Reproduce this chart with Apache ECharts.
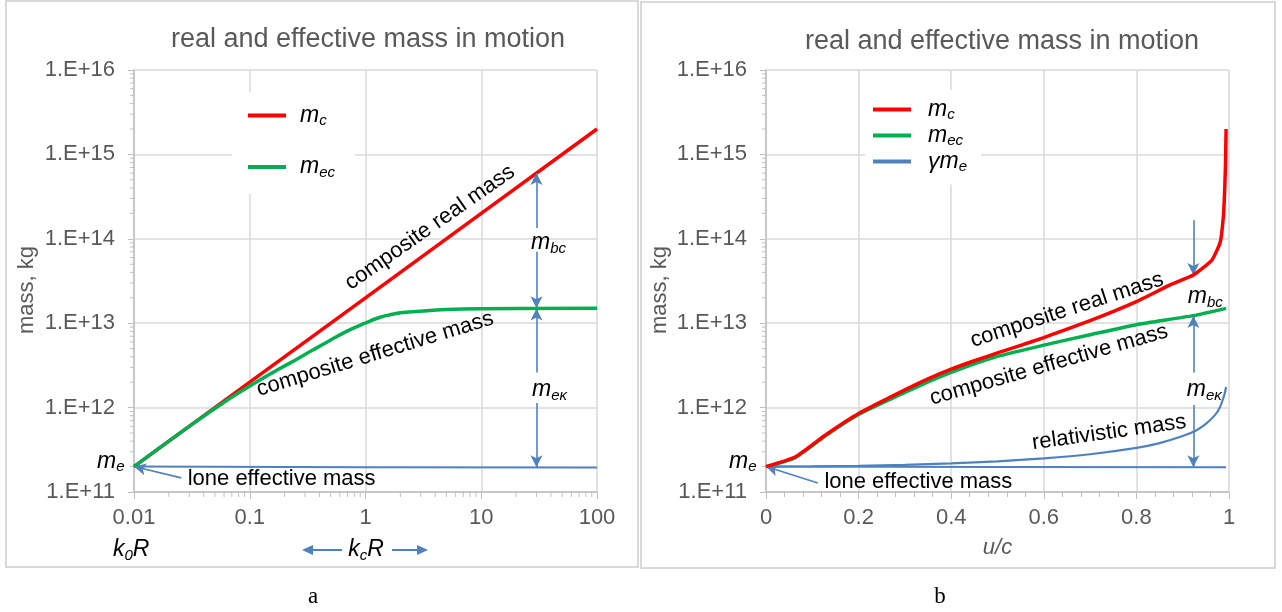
<!DOCTYPE html>
<html><head><meta charset="utf-8">
<script src="https://cdn.jsdelivr.net/npm/echarts@6/dist/echarts.min.js"></script>
<style>html,body{margin:0;padding:0;background:#fff}#c{width:1282px;height:612px}</style>
</head><body><div id="c"></div>
<script>
// ---------- data ----------
// panel a : mass vs k·R (log-log)
const kR_mc   = [0.01, 0.1, 1, 10, 100];
const mc_a    = [2e11, 2e12, 2e13, 2e14, 2e15];
const kR_mec  = [0.01, 0.03, 0.0675, 0.1, 0.182, 0.255, 0.35, 0.493, 0.7, 0.99, 1.3, 1.63, 2.0, 2.77, 5, 10, 100];
const mec_a   = [2e11, 6e11, 1.29e12, 1.8e12, 2.9e12, 3.74e12, 4.8e12, 6.25e12, 8.1e12, 1.0e13, 1.16e13, 1.26e13, 1.33e13, 1.38e13, 1.45e13, 1.48e13, 1.5e13];
const kR_lone = [0.01, 1, 100];
const lone_a  = [2e11, 1.97e11, 1.95e11];
// panel b : mass vs u/c
const u_mc    = [0, 0.063, 0.13, 0.2, 0.3, 0.35, 0.4, 0.45, 0.5, 0.55, 0.6, 0.7, 0.8, 0.873, 0.923, 0.963, 0.981, 0.988, 0.991, 0.9925, 0.9937];
const mc_b    = [2e11, 2.6e11, 4.8e11, 8.5e11, 1.62e12, 2.19e12, 2.85e12, 3.59e12, 4.45e12, 5.46e12, 6.76e12, 1.07e13, 1.8e13, 2.84e13, 3.72e13, 5.6e13, 9.1e13, 1.9e14, 4.2e14, 8e14, 2e15];
const u_mec   = [0, 0.063, 0.13, 0.2, 0.3, 0.35, 0.4, 0.45, 0.49, 0.6, 0.7, 0.8, 0.923, 0.9937];
const mec_b   = [2e11, 2.55e11, 4.7e11, 8.3e11, 1.51e12, 2.02e12, 2.62e12, 3.31e12, 3.9e12, 5.5e12, 7.3e12, 9.6e12, 1.23e13, 1.5e13];
const u_gam   = [0, 0.1, 0.2, 0.3, 0.4, 0.5, 0.6, 0.7, 0.8, 0.85, 0.9, 0.93, 0.95, 0.97, 0.98, 0.99, 0.9937];
const gme_b   = [2.0e11, 2.01e11, 2.04e11, 2.1e11, 2.18e11, 2.31e11, 2.5e11, 2.8e11, 3.33e11, 3.8e11, 4.6e11, 5.4e11, 6.4e11, 8.2e11, 1.0e12, 1.42e12, 1.75e12];
const u_lone  = [0, 0.5, 0.9937];
const lone_b  = [2e11, 1.98e11, 1.96e11];
// axes
const yTicks  = [1e11, 1e12, 1e13, 1e14, 1e15, 1e16];
const xTicksA = [0.01, 0.1, 1, 10, 100];
const xTicksB = [0, 0.2, 0.4, 0.6, 0.8, 1];
const minorSteps = [2, 3, 4, 5, 6, 7, 8, 9];
const legendNames = { mc: '{i|m}{s|c}', mec: '{i|m}{s|ec}', gme: '{i|γm}{s|e}' };

// ---------- styling ----------
const FONT = '"Liberation Sans", Arial, sans-serif';
const GRAY = '#595959', GRID = '#d9d9d9', AXIS = '#bfbfbf';
const RED = '#ff0000', GREEN = '#00b050', BLUE = '#4f81bd';
const zip = (xs, ys) => xs.map((x, i) => [x, ys[i]]);
const logMinor = ticks => ticks.slice(0, -1).flatMap(d => minorSteps.map(k => k * d));
const yMinor = logMinor(yTicks), xMinorA = logMinor(xTicksA);
const rich = {
  i: { fontSize: 23, fontStyle: 'italic', fontFamily: FONT, color: '#000', lineHeight: 26 },
  s: { fontSize: 15, fontStyle: 'italic', fontFamily: FONT, color: '#000', lineHeight: 14, verticalAlign: 'bottom' }
};
function txt(coord, text, rotate, extra) {
  return {
    coord, symbol: 'circle', symbolSize: 1, itemStyle: { color: 'rgba(0,0,0,0)' },
    label: Object.assign({ show: true, position: 'inside', formatter: text, rotate: rotate || 0,
      color: '#000', fontSize: 22, fontFamily: FONT, rich }, extra || {})
  };
}
function arrow(from, to) {
  return [{ coord: from, symbol: 'none' }, { coord: to, symbol: 'arrow', symbolSize: [9, 12] }];
}
const markLineBase = { silent: true, animation: false, label: { show: false }, emphasis: { disabled: true },
  lineStyle: { color: BLUE, width: 1.6, type: 'solid' } };

// minor tick marks on log axes, placed through the axis scales
function minorTickSeries(gi, values, dir, anchor) {
  return { type: 'custom', xAxisIndex: gi, yAxisIndex: gi, silent: true, clip: false, z: 1,
    data: values.map(v => [v]),
    renderItem: (params, api) => {
      const v = api.value(0);
      const p = dir === 'y' ? api.coord([anchor, v]) : api.coord([v, anchor]);
      const shape = dir === 'y' ? { x1: p[0] - 4, y1: p[1], x2: p[0], y2: p[1] }
                                : { x1: p[0], y1: p[1], x2: p[0], y2: p[1] + 5 };
      return { type: 'line', shape, style: { stroke: AXIS, lineWidth: 1 } };
    } };
}

function yAxis(gi) {
  return { type: 'log', logBase: 10, gridIndex: gi, min: yTicks[0], max: yTicks[yTicks.length - 1],
    axisLine: { show: true, lineStyle: { color: AXIS, width: 1.5 } },
    axisTick: { show: true, length: 6, lineStyle: { color: AXIS } },
    minorTick: { show: false },
    splitLine: { show: true, lineStyle: { color: GRID, width: 1.5 } },
    axisLabel: { color: GRAY, fontSize: 22, fontFamily: FONT, margin: 19,
      formatter: v => '1.E+' + Math.round(Math.log10(v)) } };
}

const option = {
  animation: false,
  title: [
    { text: 'real and effective mass in motion', left: 368, top: 26, textAlign: 'center', padding: 0,
      textStyle: { color: GRAY, fontSize: 27, fontWeight: 'normal', fontFamily: FONT } },
    { text: 'real and effective mass in motion', left: 1002, top: 28, textAlign: 'center', padding: 0,
      textStyle: { color: GRAY, fontSize: 27, fontWeight: 'normal', fontFamily: FONT } }
  ],
  legend: [
    { data: ['mc', 'mec'], orient: 'vertical', left: 232, top: 92, padding: [12, 20, 14, 16],
      backgroundColor: '#fff', itemGap: 27, icon: 'rect', itemWidth: 38, itemHeight: 4,
      formatter: n => legendNames[n], textStyle: { rich, padding: [0, 0, 0, 9] }, selectedMode: false },
    { data: ['mc', 'mec', 'gme'], orient: 'vertical', left: 865, top: 90, padding: [8, 14, 10, 8],
      backgroundColor: '#fff', itemGap: 1.5, icon: 'rect', itemWidth: 38, itemHeight: 4,
      formatter: n => legendNames[n], textStyle: { rich, padding: [0, 0, 0, 12] }, selectedMode: false }
  ],
  grid: [
    { left: 134, right: 1282 - 597, top: 70, bottom: 612 - 492 },
    { left: 766, right: 1282 - 1229, top: 70, bottom: 612 - 492 }
  ],
  xAxis: [
    { type: 'log', logBase: 10, gridIndex: 0, min: xTicksA[0], max: xTicksA[xTicksA.length - 1],
      axisLine: { show: true, lineStyle: { color: AXIS, width: 1.5 } },
      axisTick: { show: true, length: 7, lineStyle: { color: AXIS } },
      minorTick: { show: false },
      splitLine: { show: true, lineStyle: { color: GRID, width: 1.5 } },
      axisLabel: { color: GRAY, fontSize: 22, fontFamily: FONT, margin: 15,
        formatter: v => String(+(+v).toPrecision(2)) } },
    { type: 'value', gridIndex: 1, min: xTicksB[0], max: xTicksB[xTicksB.length - 1], interval: 0.2,
      name: 'u/c', nameLocation: 'middle', nameGap: 45,
      nameTextStyle: { color: GRAY, fontSize: 22, fontStyle: 'italic', fontFamily: FONT },
      axisLine: { show: true, lineStyle: { color: AXIS, width: 1.5 } },
      axisTick: { show: true, length: 7, lineStyle: { color: AXIS } },
      minorTick: { show: true, splitNumber: 5, length: 5, lineStyle: { color: AXIS } },
      splitLine: { show: true, lineStyle: { color: GRID, width: 1.5 } },
      axisLabel: { color: GRAY, fontSize: 22, fontFamily: FONT, margin: 15,
        formatter: v => String(+(+v).toFixed(1)) } }
  ],
  yAxis: [yAxis(0), yAxis(1)],
  series: [
    minorTickSeries(0, yMinor, 'y', xTicksA[0]),
    minorTickSeries(0, xMinorA, 'x', yTicks[0]),
    minorTickSeries(1, yMinor, 'y', xTicksB[0]),
    { name: 'lone', type: 'line', xAxisIndex: 0, yAxisIndex: 0, data: zip(kR_lone, lone_a), showSymbol: false,
      lineStyle: { color: BLUE, width: 2 }, itemStyle: { color: BLUE }, z: 3,
      markLine: Object.assign({}, markLineBase, { data: [
        arrow([0.0256, 1.47e11], [0.01, 2e11]),
        arrow([30, 1.34e14], [30, 6.0e14]),
        arrow([30, 7.0e13], [30, 1.5e13]),
        arrow([30, 2.6e12], [30, 1.49e13]),
        arrow([30, 1.13e12], [30, 1.96e11])
      ] }),
      markPoint: { silent: true, animation: false, data: [
        txt([0.01, 2e11], '{i|m}{s|e}', 0, { position: 'left', distance: 9, offset: [0, -5] }),
        txt([0.0288, 1.43e11], 'lone effective mass', 0, { position: 'right', distance: 0 }),
        txt([3.6, 1.36e14], 'composite real mass', 35),
        txt([1.21, 4.3e12], 'composite effective mass', 17),
        txt([30, 8.9e13], '{i|m}{s|bc}', 0, { offset: [12, 0] }),
        txt([30, 1.62e12], '{i|m}{s|eκ}', 0, { offset: [13, 0] })
      ] } },
    { name: 'mc', type: 'line', xAxisIndex: 0, yAxisIndex: 0, data: zip(kR_mc, mc_a), showSymbol: false,
      lineStyle: { color: RED, width: 3.5 }, itemStyle: { color: RED }, z: 4 },
    { name: 'mec', type: 'line', xAxisIndex: 0, yAxisIndex: 0, data: zip(kR_mec, mec_a), showSymbol: false,
      smooth: 0.4,
      lineStyle: { color: GREEN, width: 3.5 }, itemStyle: { color: GREEN }, z: 5 },

    { name: 'lone', type: 'line', xAxisIndex: 1, yAxisIndex: 1, data: zip(u_lone, lone_b), showSymbol: false,
      lineStyle: { color: BLUE, width: 2 }, itemStyle: { color: BLUE }, z: 3,
      markLine: Object.assign({}, markLineBase, { data: [
        arrow([0.112, 1.28e11], [0, 2e11]),
        arrow([0.923, 1.66e14], [0.923, 3.72e13]),
        arrow([0.923, 2.6e12], [0.923, 1.22e13]),
        arrow([0.923, 1.07e12], [0.923, 1.96e11])
      ] }),
      markPoint: { silent: true, animation: false, data: [
        txt([0, 2e11], '{i|m}{s|e}', 0, { position: 'left', distance: 9, offset: [0, -5] }),
        txt([0.125, 1.31e11], 'lone effective mass', 0, { position: 'right', distance: 0 }),
        txt([0.65, 1.43e13], 'composite real mass', 18),
        txt([0.611, 3.2e12], 'composite effective mass', 16),
        txt([0.741, 5.07e11], 'relativistic mass', 8),
        txt([0.923, 2.04e13], '{i|m}{s|bc}', 0, { offset: [12, 0] }),
        txt([0.923, 1.62e12], '{i|m}{s|eκ}', 0, { offset: [11, 0] })
      ] } },
    { name: 'gme', type: 'line', xAxisIndex: 1, yAxisIndex: 1, data: zip(u_gam, gme_b), showSymbol: false,
      smooth: 0.2,
      lineStyle: { color: BLUE, width: 2.2 }, itemStyle: { color: BLUE }, z: 3 },
    { name: 'mec', type: 'line', xAxisIndex: 1, yAxisIndex: 1, data: zip(u_mec, mec_b), showSymbol: false,
      smooth: 0.2,
      lineStyle: { color: GREEN, width: 3.5 }, itemStyle: { color: GREEN }, z: 4 },
    { name: 'mc', type: 'line', xAxisIndex: 1, yAxisIndex: 1, data: zip(u_mc, mc_b), showSymbol: false,
      smooth: 0.15,
      lineStyle: { color: RED, width: 3.5 }, itemStyle: { color: RED }, z: 5 }
  ],
  graphic: [
    { type: 'rect', shape: { x: 6, y: 1, width: 632, height: 566 }, style: { fill: 'none', stroke: GRID, lineWidth: 2 }, silent: true, z: -1 },
    { type: 'rect', shape: { x: 641, y: 2, width: 634, height: 566 }, style: { fill: 'none', stroke: GRID, lineWidth: 2 }, silent: true, z: -1 },
    { type: 'text', x: 27, y: 290, rotation: Math.PI / 2, style: { text: 'mass, kg', fill: GRAY, fontSize: 22, fontFamily: FONT, align: 'center', verticalAlign: 'middle' } },
    { type: 'text', x: 660, y: 290, rotation: Math.PI / 2, style: { text: 'mass, kg', fill: GRAY, fontSize: 22, fontFamily: FONT, align: 'center', verticalAlign: 'middle' } },
    { type: 'text', x: 113, y: 550, style: { text: '{i|k}{s|0}{i|R}', rich, align: 'left', verticalAlign: 'middle' } },
    { type: 'text', x: 366, y: 550, style: { text: '{i|k}{s|c}{i|R}', align: 'center', verticalAlign: 'middle',
      rich: { i: Object.assign({}, rich.i, { color: '#7f7f7f' }), s: Object.assign({}, rich.s, { color: '#7f7f7f' }) } } },
    { type: 'line', shape: { x1: 342, y1: 550, x2: 310, y2: 550 }, style: { stroke: BLUE, lineWidth: 2 } },
    { type: 'polygon', shape: { points: [[302, 550], [313, 545], [313, 555]] }, style: { fill: BLUE } },
    { type: 'line', shape: { x1: 392, y1: 550, x2: 420, y2: 550 }, style: { stroke: BLUE, lineWidth: 2 } },
    { type: 'polygon', shape: { points: [[428, 550], [417, 545], [417, 555]] }, style: { fill: BLUE } },
    { type: 'text', x: 313, y: 597, style: { text: 'a', fill: '#000', fontSize: 23, fontFamily: '"Liberation Serif", "DejaVu Serif", serif', align: 'center', verticalAlign: 'middle' } },
    { type: 'text', x: 940, y: 597, style: { text: 'b', fill: '#000', fontSize: 23, fontFamily: '"Liberation Serif", "DejaVu Serif", serif', align: 'center', verticalAlign: 'middle' } }
  ]
};
const chart = echarts.init(document.getElementById('c'), null, { renderer: 'canvas' });
chart.setOption(option);
</script>
</body></html>
